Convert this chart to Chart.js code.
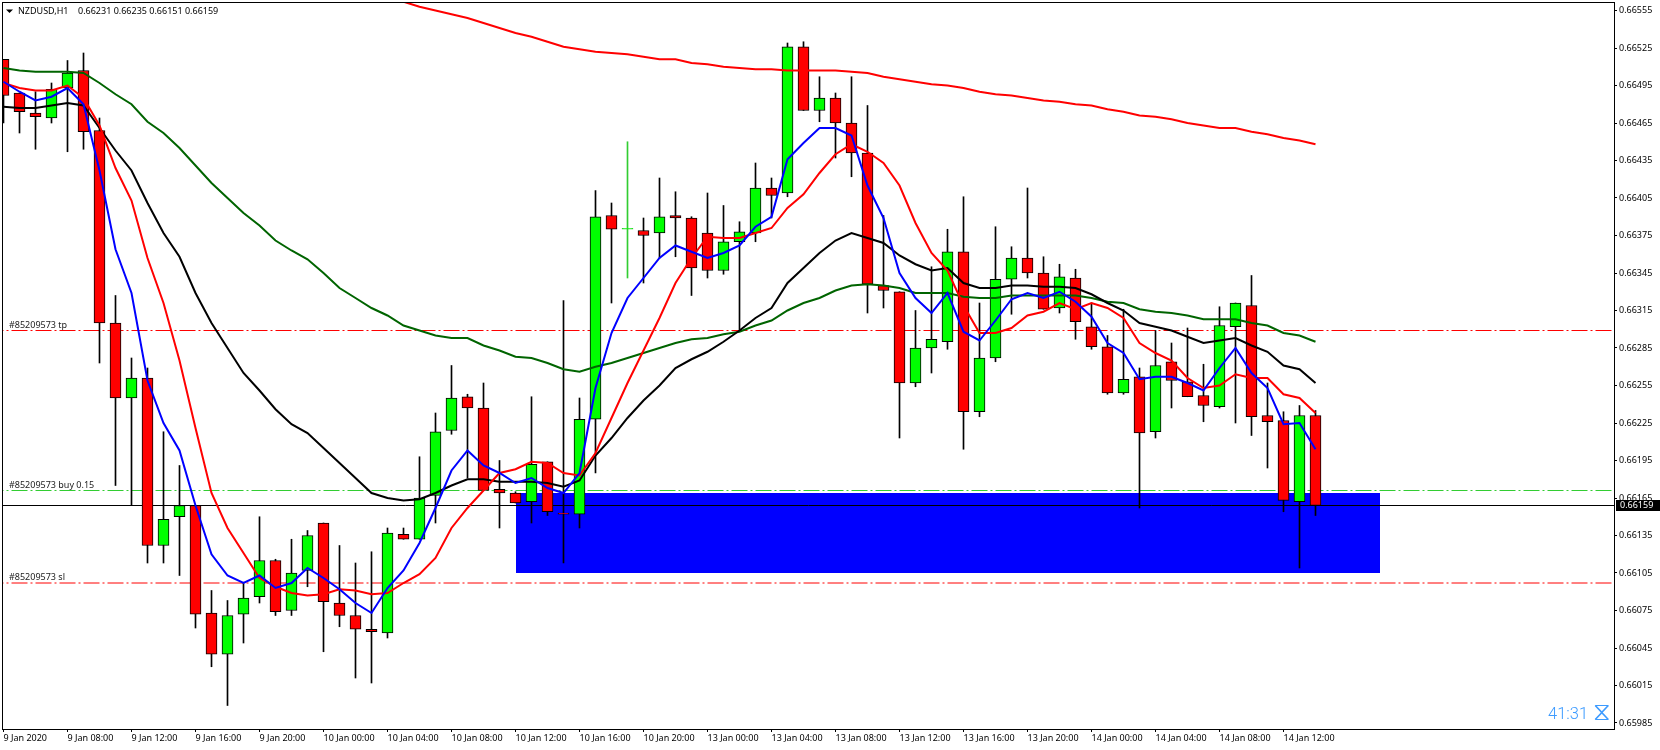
<!DOCTYPE html>
<html>
<head>
<meta charset="utf-8">
<title>NZDUSD,H1</title>
<script src="https://cdn.jsdelivr.net/npm/chart.js@4/dist/chart.umd.min.js"></script>
<style>
  html, body { margin: 0; padding: 0; background: #fff; }
  canvas { display: block; }
</style>
</head>
<body>
<canvas id="priceChart" width="1660" height="750"></canvas>
<script>
const symbolLabel = "NZDUSD,H1";
const ohlcLabel = "0.66231 0.66235 0.66151 0.66159";
const timerLabel = "41:31";

const opens = [
  0.66516,0.66489,0.66473,0.66469,0.66493,0.66507,0.66459,0.66305,0.66245,0.66261,
  0.66127,0.66150,0.66159,0.66073,0.66040,0.66072,0.66086,0.66115,0.66075,0.66107,
  0.66145,0.66081,0.66071,0.66060,0.66057,0.66136,0.66132,0.66167,0.66219,0.66246,
  0.66237,0.66172,0.66169,0.66162,0.66194,0.66153,0.66152,0.66228,0.66391,0.66380,
  0.66379,0.66377,0.66391,0.66389,0.66377,0.66347,0.66370,0.66377,0.66413,0.66409,
  0.66526,0.66475,0.66485,0.66465,0.66441,0.66335,0.66330,0.66257,0.66285,0.66290,
  0.66362,0.66234,0.66277,0.66340,0.66357,0.66345,0.66317,0.66341,0.66302,0.66286,
  0.66249,0.66262,0.66218,0.66274,0.66258,0.66247,0.66238,0.66302,0.66319,0.66231,
  0.66227,0.66162,0.66231];
const closes = [
  0.66487,0.66474,0.66470,0.66492,0.66505,0.66458,0.66305,0.66245,0.66261,0.66127,
  0.66148,0.66159,0.66072,0.66040,0.66071,0.66085,0.66115,0.66074,0.66105,0.66135,
  0.66082,0.66071,0.66060,0.66058,0.66137,0.66132,0.66165,0.66218,0.66245,0.66237,
  0.66171,0.66169,0.66161,0.66192,0.66154,0.66152,0.66228,0.66390,0.66380,0.66380,
  0.66375,0.66390,0.66389,0.66349,0.66347,0.66370,0.66378,0.66413,0.66407,0.66526,
  0.66475,0.66485,0.66465,0.66441,0.66336,0.66331,0.66257,0.66285,0.66292,0.66362,
  0.66234,0.66277,0.66340,0.66357,0.66345,0.66316,0.66342,0.66306,0.66286,0.66249,
  0.66260,0.66217,0.66271,0.66259,0.66246,0.66239,0.66303,0.66321,0.66230,0.66226,
  0.66163,0.66231,0.66159];
const highs = [
  0.66516,0.66489,0.66490,0.66497,0.66515,0.66521,0.66469,0.66327,0.66277,0.66269,
  0.66218,0.66191,0.66159,0.66091,0.66083,0.66097,0.66150,0.66116,0.66132,0.66139,
  0.66145,0.66127,0.66113,0.66122,0.66141,0.66141,0.66198,0.66233,0.66271,0.66248,
  0.66257,0.66195,0.66170,0.66246,0.66194,0.66323,0.66245,0.66411,0.66401,0.66450,
  0.66389,0.66421,0.66410,0.66390,0.66409,0.66399,0.66386,0.66433,0.66421,0.66529,
  0.66530,0.66502,0.66489,0.66502,0.66479,0.66391,0.66330,0.66315,0.66350,0.66380,
  0.66406,0.66321,0.66382,0.66366,0.66413,0.66358,0.66352,0.66348,0.66321,0.66295,
  0.66316,0.66269,0.66299,0.66289,0.66301,0.66272,0.66318,0.66321,0.66343,0.66257,
  0.66234,0.66239,0.66235];
const lows = [
  0.66465,0.66457,0.66444,0.66465,0.66442,0.66444,0.66273,0.66175,0.66159,0.66113,
  0.66113,0.66103,0.66061,0.66030,0.65999,0.66049,0.66081,0.66071,0.66071,0.66094,
  0.66042,0.66062,0.66021,0.66017,0.66053,0.66132,0.66132,0.66145,0.66216,0.66181,
  0.66171,0.66141,0.66161,0.66145,0.66151,0.66113,0.66141,0.66185,0.66321,0.66341,
  0.66337,0.66357,0.66358,0.66327,0.66341,0.66344,0.66299,0.66370,0.66389,0.66406,
  0.66475,0.66466,0.66437,0.66422,0.66313,0.66317,0.66213,0.66254,0.66265,0.66284,
  0.66204,0.66230,0.66274,0.66312,0.66341,0.66316,0.66313,0.66292,0.66284,0.66248,
  0.66248,0.66157,0.66213,0.66237,0.66246,0.66226,0.66237,0.66225,0.66215,0.66189,
  0.66154,0.66109,0.66151];

const maBlue = [
  0.66498,0.66490,0.66483,0.66486,0.66493,0.66480,0.66427,0.66364,0.66329,0.66259,
  0.66225,0.66203,0.66159,0.66120,0.66103,0.66097,0.66103,0.66093,0.66097,0.66109,
  0.66101,0.66092,0.66081,0.66073,0.66093,0.66107,0.66129,0.66157,0.66187,0.66203,
  0.66191,0.66185,0.66177,0.66181,0.66173,0.66169,0.66185,0.66253,0.66297,0.66325,
  0.66341,0.66357,0.66367,0.66362,0.66357,0.66361,0.66367,0.66382,0.66390,0.66436,
  0.66449,0.66461,0.66461,0.66455,0.66415,0.66389,0.66345,0.66325,0.66313,0.66329,
  0.66298,0.66291,0.66307,0.66324,0.66329,0.66325,0.66330,0.66322,0.66310,0.66289,
  0.66281,0.66260,0.66262,0.66262,0.66257,0.66251,0.66269,0.66285,0.66265,0.66253,
  0.66224,0.66225,0.66204];
const maRed = [
  0.66497,0.66493,0.66491,0.66491,0.66495,0.66485,0.66463,0.66429,0.66403,0.66357,
  0.66321,0.66275,0.66221,0.66169,0.66141,0.66121,0.66101,0.66094,0.66089,0.66087,
  0.66088,0.66092,0.66091,0.66088,0.66089,0.66097,0.66104,0.66117,0.66141,0.66157,
  0.66171,0.66185,0.66188,0.66194,0.66193,0.66185,0.66183,0.66201,0.66229,0.66257,
  0.66283,0.66309,0.66337,0.66357,0.66374,0.66373,0.66373,0.66377,0.66381,0.66397,
  0.66408,0.66425,0.66440,0.66448,0.66442,0.66433,0.66415,0.66385,0.66361,0.66347,
  0.66319,0.66297,0.66297,0.66301,0.66311,0.66314,0.66321,0.66316,0.66321,0.66317,
  0.66309,0.66289,0.66281,0.66275,0.66261,0.66253,0.66255,0.66264,0.66261,0.66261,
  0.66248,0.66245,0.66233];
const maBlack = [
  0.66478,0.66477,0.66477,0.66479,0.66481,0.66479,0.66461,0.66443,0.66427,0.66401,
  0.66377,0.66358,0.66329,0.66305,0.66285,0.66265,0.66251,0.66236,0.66224,0.66217,
  0.66205,0.66193,0.66181,0.66169,0.66165,0.66163,0.66164,0.66169,0.66175,0.66180,
  0.66180,0.66178,0.66178,0.66178,0.66177,0.66174,0.66179,0.66199,0.66213,0.66229,
  0.66243,0.66255,0.66269,0.66276,0.66282,0.66290,0.66299,0.66309,0.66317,0.66337,
  0.66349,0.66361,0.66371,0.66377,0.66373,0.66369,0.66359,0.66352,0.66347,0.66349,
  0.66337,0.66333,0.66333,0.66335,0.66335,0.66334,0.66334,0.66333,0.66328,0.66321,
  0.66315,0.66305,0.66302,0.66299,0.66294,0.66289,0.66291,0.66293,0.66287,0.66282,
  0.66271,0.66268,0.66257];
const maGreen = [
  0.66509,0.66507,0.66506,0.66506,0.66506,0.66505,0.66497,0.66488,0.66480,0.66466,
  0.66457,0.66445,0.66431,0.66417,0.66405,0.66393,0.66383,0.66371,0.66363,0.66356,
  0.66345,0.66333,0.66325,0.66317,0.66311,0.66303,0.66299,0.66295,0.66293,0.66293,
  0.66287,0.66283,0.66278,0.66277,0.66273,0.66268,0.66266,0.66270,0.66273,0.66277,
  0.66281,0.66285,0.66289,0.66292,0.66293,0.66296,0.66298,0.66303,0.66307,0.66315,
  0.66321,0.66325,0.66331,0.66335,0.66336,0.66335,0.66333,0.66329,0.66329,0.66329,
  0.66326,0.66325,0.66325,0.66327,0.66327,0.66327,0.66327,0.66327,0.66325,0.66322,
  0.66321,0.66316,0.66314,0.66313,0.66311,0.66308,0.66308,0.66308,0.66305,0.66303,
  0.66297,0.66295,0.66290];
// the slow average runs above the window until bar 25
const maSlow = [
  null,null,null,null,null,null,null,null,null,null,
  null,null,null,null,null,null,null,null,null,null,
  null,null,null,null,null,0.66562,0.66558,0.66555,0.66552,0.66549,
  0.66545,0.66541,0.66537,0.66534,0.66530,0.66526,0.66524,0.66522,0.66521,0.66520,
  0.66518,0.66516,0.66516,0.66513,0.66512,0.66510,0.66509,0.66508,0.66508,0.66507,
  0.66507,0.66507,0.66507,0.66506,0.66505,0.66502,0.66500,0.66498,0.66496,0.66495,
  0.66493,0.66490,0.66488,0.66487,0.66485,0.66483,0.66482,0.66480,0.66479,0.66476,
  0.66474,0.66471,0.66470,0.66468,0.66465,0.66463,0.66461,0.66461,0.66458,0.66456,
  0.66453,0.66451,0.66448];

const priceTicks = [
  0.66555,0.66525,0.66495,0.66465,0.66435,0.66405,0.66375,0.66345,0.66315,0.66285,
  0.66255,0.66225,0.66195,0.66165,0.66135,0.66105,0.66075,0.66045,0.66015,0.65985];
const dateTicks = [0,4,8,12,16,20,24,28,32,36,40,44,48,52,56,60,64,68,72,76,80];
const dateLabels = [
  "9 Jan 2020","9 Jan 08:00","9 Jan 12:00","9 Jan 16:00","9 Jan 20:00",
  "10 Jan 00:00","10 Jan 04:00","10 Jan 08:00","10 Jan 12:00","10 Jan 16:00","10 Jan 20:00",
  "13 Jan 00:00","13 Jan 04:00","13 Jan 08:00","13 Jan 12:00","13 Jan 16:00","13 Jan 20:00",
  "14 Jan 00:00","14 Jan 04:00","14 Jan 08:00","14 Jan 12:00"];

const tpLevel = 0.66299;
const buyLevel = 0.66171;
const slLevel = 0.66097;
const lastPrice = 0.66159;
const orderLabels = ["#85209573 tp", "#85209573 buy 0.15", "#85209573 sl"];
const orderLevels = [tpLevel, buyLevel, slLevel];

// blue box: bar range and price range
const boxBars = [32, 86];
const boxPrices = [0.66105, 0.66169];

const FONT = '"Noto Sans", sans-serif';
const dashDot = [16, 3, 2, 3];

function toPoints(values) {
  return values.map((v, i) => ({x: i, y: v}));
}
function toRanges(a, b) {
  return a.map((v, i) => ({x: i, y: [v, b[i]]}));
}
function levelLine(price, color, dash, order) {
  return {
    type: "line",
    data: [{x: -1, y: price}, {x: 101, y: price}],
    borderColor: color,
    borderWidth: 1,
    borderDash: dash,
    pointRadius: 0,
    order: order
  };
}
function maLine(values, color, order) {
  return {
    type: "line",
    data: toPoints(values),
    borderColor: color,
    borderWidth: 2,
    pointRadius: 0,
    tension: 0,
    order: order
  };
}
const isDoji = i => opens[i] === closes[i];

// the label overhang would otherwise push the plot area in
function noOverhang(s) {
  s.paddingTop = 0;
  s.paddingBottom = 0;
  s.paddingLeft = 0;
  s.paddingRight = 0;
}

// things that MT4 draws around the candles: box, frame, captions
const overlay = {
  id: "overlay",
  beforeDatasetsDraw(chart) {
    const {ctx, scales: {x, y}} = chart;
    const left = Math.round(x.getPixelForValue(boxBars[0]));
    const right = Math.round(x.getPixelForValue(boxBars[1]));
    const top = Math.round(y.getPixelForValue(boxPrices[1]));
    const bottom = Math.round(y.getPixelForValue(boxPrices[0]));
    ctx.fillStyle = "#0000ff";
    ctx.fillRect(left, top, right - left, bottom - top);
  },
  afterDraw(chart) {
    const {ctx, chartArea: a, scales: {y}} = chart;
    ctx.save();
    ctx.strokeStyle = "#000";
    ctx.lineWidth = 1;
    ctx.strokeRect(a.left - 0.5, a.top - 0.5, a.right - a.left + 1, a.bottom - a.top + 1);

    ctx.textBaseline = "middle";
    ctx.textAlign = "left";
    ctx.fillStyle = "#000";
    ctx.font = "9px " + FONT;
    ctx.fillText(symbolLabel, 18, 11);
    ctx.fillText(ohlcLabel, 78, 11);
    ctx.beginPath();
    ctx.moveTo(6, 9.5);
    ctx.lineTo(13, 9.5);
    ctx.lineTo(9.5, 13);
    ctx.closePath();
    ctx.fill();

    orderLabels.forEach((text, i) => {
      ctx.fillStyle = "#222";
      ctx.fillText(text, 9, y.getPixelForValue(orderLevels[i]) - 5.5);
    });

    // last price tag on the axis
    const tagY = Math.round(y.getPixelForValue(lastPrice));
    ctx.fillStyle = "#000";
    ctx.fillRect(1616, tagY - 5, 44, 11);
    ctx.fillStyle = "#fff";
    ctx.fillText(lastPrice.toFixed(5), 1620, tagY + 0.5);

    ctx.fillStyle = "#3d9bff";
    ctx.font = '300 16.5px Roboto, sans-serif';
    ctx.fillText(timerLabel, 1548, 715);
    ctx.font = '25px "DejaVu Sans", sans-serif';
    ctx.fillText("\u29D6", 1593, 713);
    ctx.restore();
  }
};

const ctx = document.getElementById("priceChart");
const config = {
  type: "bar",
  data: {
    datasets: [
      maLine(maBlue, "#0000ff", 1),
      maLine(maRed, "#ff0000", 2),
      maLine(maBlack, "#000000", 3),
      maLine(maGreen, "#006400", 4),
      maLine(maSlow, "#ff0000", 5),
      {
        // candle bodies
        data: toRanges(opens, closes),
        barThickness: 11,
        grouped: false,
        minBarLength: 1,
        borderWidth: 1,
        borderSkipped: false,
        borderColor: c => isDoji(c.dataIndex) ? "#32cd32" : "#000000",
        backgroundColor: c => closes[c.dataIndex] >= opens[c.dataIndex] ? "#00ff00" : "#ff0000",
        order: 6
      },
      {
        // wicks
        data: toRanges(lows, highs),
        barThickness: 1,
        grouped: false,
        borderWidth: 0,
        backgroundColor: c => isDoji(c.dataIndex) ? "#32cd32" : "#000000",
        order: 7
      },
      levelLine(lastPrice, "#000000", [], 8),
      levelLine(tpLevel, "#ff0000", dashDot, 9),
      levelLine(buyLevel, "#32cd32", dashDot, 10),
      levelLine(slLevel, "#ff0000", dashDot, 11)
    ]
  },
  plugins: [overlay],
  options: {
    responsive: false,
    animation: false,
    layout: { padding: { top: 3, left: 3 } },
    plugins: {
      legend: { display: false },
      tooltip: { enabled: false }
    },
    scales: {
      x: {
        type: "linear",
        offset: false,
        // bar i sits at pixel 3.5 + 16 * i
        min: -0.03125,
        max: 100.65625,
        afterFit: s => { s.height = 21; noOverhang(s); },
        afterBuildTicks: s => { s.ticks = dateTicks.map(v => ({value: v})); },
        border: { display: false },
        grid: { offset: false, drawOnChartArea: false, drawTicks: true, tickLength: 3, tickColor: "#000" },
        ticks: {
          autoSkip: false,
          maxRotation: 0,
          align: "start",
          padding: 1,
          color: "#000",
          font: { family: "Noto Sans", size: 9 },
          callback: (value) => dateLabels[dateTicks.indexOf(value)]
        }
      },
      y: {
        position: "right",
        min: 0.659802,
        max: 0.66561,
        afterFit: s => { s.width = 46; noOverhang(s); },
        afterBuildTicks: s => { s.ticks = priceTicks.map(v => ({value: v})); },
        border: { display: false },
        grid: { drawOnChartArea: false, drawTicks: true, tickLength: 3, tickColor: "#000" },
        ticks: {
          autoSkip: false,
          padding: 2,
          color: "#000",
          font: { family: "Noto Sans", size: 9 },
          callback: value => value.toFixed(5)
        }
      }
    }
  }
};
const priceChart = new Chart(ctx, config);
</script>
</body>
</html>
